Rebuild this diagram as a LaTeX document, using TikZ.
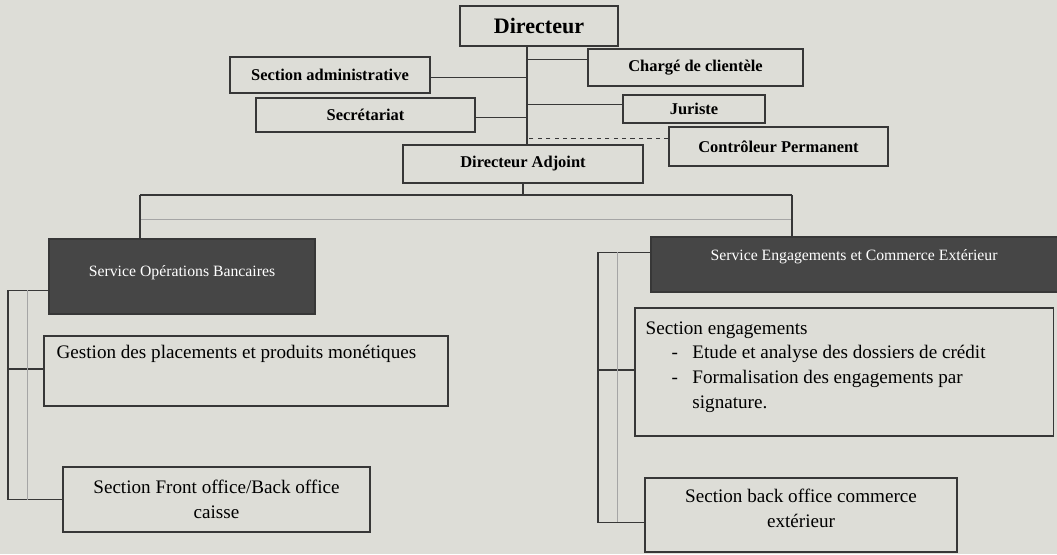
\documentclass[tikz,border=0pt]{standalone}
\usepackage{fontspec}
\setmainfont{Liberation Serif}
\usepackage{tikz}
\usetikzlibrary{positioning}
\usetikzlibrary{backgrounds}

\definecolor{papier}{RGB}{221,221,215}
\definecolor{trait}{RGB}{55,55,55}
\definecolor{sombre}{RGB}{70,70,70}

\tikzset{
  boite/.style={draw=trait,line width=0.8pt,inner sep=2pt,font=\bfseries\fontsize{11.7}{13}\selectfont},
  service/.style={draw=trait,fill=sombre,line width=0.8pt},
  servtexte/.style={text=white,font=\fontsize{11.2}{12}\selectfont},
  section/.style={draw=trait,line width=0.8pt,align=center,font=\fontsize{13.6}{17.7}\selectfont},
  lien/.style={draw=trait,line width=0.8pt},
  lienclair/.style={draw=trait!45,line width=0.6pt}
}

\begin{document}
\begin{tikzpicture}[x=0.025cm,y=-0.025cm]
\fill[papier] (0,0) rectangle (1057,554);
\useasboundingbox (0,0) rectangle (1057,554);

% direction
\node[boite,minimum width=3.95cm,minimum height=1cm,font=\bfseries\fontsize{15.7}{17}\selectfont] (dir) at (539,26) {Directeur};
\node[boite,minimum width=5cm,minimum height=0.9cm] (secadm) at (330,75) {Section administrative};
\node[boite,minimum width=5.375cm,minimum height=0.925cm] (charge) at (695.5,67.5) {Chargé de clientèle};
\node[boite,minimum width=5.475cm,minimum height=0.85cm] (secret) at (365.5,115) {Secrétariat};
\node[boite,minimum width=3.55cm,minimum height=0.7cm] (juriste) at (694,109) {Juriste};
\node[boite,minimum width=5.475cm,minimum height=0.975cm] (ctrl) at (778.5,146.5) {Contrôleur Permanent};
\node[boite,minimum width=6cm,minimum height=0.95cm] (dirA) at (523,164) {Directeur Adjoint};

\coordinate (tronc) at (527,0);
\draw[lien] (dir.south -| tronc) -- (dirA.north -| tronc);
\draw[lien] ([yshift=-0.07cm]secadm.east) -- ([yshift=-0.07cm]secadm.east -| tronc);
\draw[lien] ([yshift=-0.07cm]secret.east) -- ([yshift=-0.07cm]secret.east -| tronc);
\draw[lien] ([yshift=0.19cm]charge.west) -- ([yshift=0.19cm]charge.west -| tronc);
\draw[lien] ([yshift=0.12cm]juriste.west) -- ([yshift=0.12cm]juriste.west -| tronc);
\draw[lien,dashed] ([yshift=0.21cm]ctrl.west) -- ([yshift=0.21cm]ctrl.west -| tronc);

% services
\node[service,minimum width=6.65cm,minimum height=1.875cm] (sob) at (182,276.5) {};
\node[servtexte] at ([yshift=0.1cm]sob.center) {Service Opérations Bancaires};
\node[service,minimum width=10.15cm,minimum height=1.375cm] (sece) at (854,264.5) {};
\node[servtexte] at ([yshift=0.2cm]sece.center) {Service Engagements et Commerce Extérieur};

\coordinate (bg) at (140,195);
\coordinate (bd) at (792,195);
\draw[lien] (dirA.south) -- (dirA.south |- bg);
\draw[lien] (bg) -- (bd);
\draw[lienclair] ([yshift=-0.6cm]bg) -- ([yshift=-0.6cm]bd);
\draw[lien] (bg) -- (bg |- sob.north);
\draw[lien] (bd) -- (bd |- sece.north);

% sections de gauche
\node[section,minimum width=10.1cm,minimum height=1.75cm] (gest) at (246,371) {};
\node[section,draw=none,anchor=north west] at ([xshift=0.2cm,yshift=-0.12cm]gest.north west) {Gestion des placements et produits monétiques};
\node[section,minimum width=7.675cm,minimum height=1.625cm] (front) at (216.5,499.5) {Section Front office/Back office\\caisse};

\coordinate (g) at (8,0);
\coordinate (g2) at (27,0);
\draw[lien] ([yshift=-0.34cm]sob.west) -| (front.west -| g) -- (front.west);
\draw[lien] ([yshift=0.05cm]gest.west) -- ([yshift=0.05cm]gest.west -| g);
\draw[lienclair] ([yshift=-0.34cm]sob.west -| g2) -- (front.west -| g2);

% sections de droite
\node[section,minimum width=10.45cm,minimum height=3.2cm] (eng) at (844,372) {};
\node[section,draw=none,anchor=north west,align=left] at ([xshift=0.15cm,yshift=-0.1cm]eng.north west) {%
\begin{tabular}{@{}p{0.65cm}@{}p{0.52cm}@{}l@{}}
\multicolumn{3}{@{}l}{Section engagements}\\
 & - & Etude et analyse des dossiers de crédit\\
 & - & Formalisation des engagements par\\
 & & signature.
\end{tabular}};
\node[section,minimum width=7.8cm,minimum height=1.85cm] (back) at (801,515) {Section back office commerce\\extérieur\\[-8pt]};

\coordinate (d) at (598,0);
\coordinate (d2) at (617,0);
\draw[lien] ([yshift=0.31cm]sece.west) -| ([yshift=-0.18cm]back.west -| d) -- ([yshift=-0.18cm]back.west);
\draw[lien] ([yshift=0.05cm]eng.west) -- ([yshift=0.05cm]eng.west -| d);
\draw[lienclair] ([yshift=0.31cm]sece.west -| d2) -- ([yshift=-0.18cm]back.west -| d2);

\end{tikzpicture}
\end{document}
